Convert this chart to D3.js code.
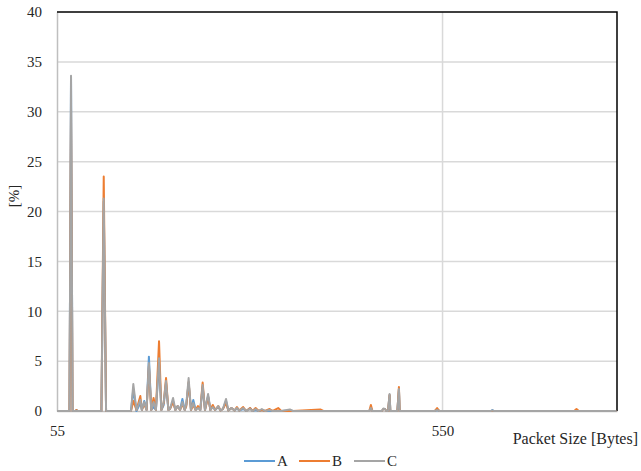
<!DOCTYPE html>
<html>
<head>
<meta charset="utf-8">
<script src="https://cdn.jsdelivr.net/npm/d3@7"></script>
<style>
  body { margin: 0; background: #fff; }
  svg { display: block; }
</style>
</head>
<body>
<svg id="chart" width="641" height="471"></svg>
<script>
// packet sizes (bytes) and share per size (%) for each trace
const sizes = [
  55, 71, 73, 75, 78, 80, 82, 112, 115, 118,
  150, 153, 157, 162, 164, 167, 170, 173, 176, 179,
  182, 186, 189, 192, 195, 198, 200, 204, 207, 210,
  213, 216, 219, 221, 224, 227, 230, 233, 236, 239,
  242, 245, 249, 252, 255, 258, 262, 265, 268, 272,
  275, 279, 283, 286, 289, 294, 298, 303, 306, 310,
  314, 318, 322, 328, 332, 339, 343, 354, 358, 393,
  397, 456, 458, 460, 472, 474, 476, 478, 480, 482,
  483, 492, 494, 495, 540, 543, 546, 612, 614, 616,
  719, 722, 725, 773
]
const seriesA = [
  0, 0, 33.5, 0, 0, 0.1, 0, 0, 21.0, 0,
  0, 2.2, 0, 0.8, 0.1, 1.0, 0.1, 5.45, 0.1, 0.4,
  0.1, 4.8, 0.1, 0.6, 2.8, 0.1, 0.2, 1.0, 0.1, 0.5,
  0.1, 1.2, 0.1, 0.6, 2.8, 0.1, 1.1, 0.1, 0.4, 0.1,
  2.4, 0.1, 1.5, 0.1, 0.5, 0.1, 0.4, 0.05, 0.2, 1.0,
  0.05, 0.3, 0.05, 0.3, 0.05, 0.2, 0, 0.3, 0, 0.1,
  0, 0.1, 0, 0, 0, 0, 0, 0.05, 0, 0,
  0, 0, 0.3, 0, 0, 0.2, 0.2, 0, 0, 1.6,
  0, 0, 2.2, 0, 0, 0.1, 0, 0, 0.1, 0,
  0, 0, 0, 0
]
const seriesB = [
  0, 0, 30.3, 0, 0, 0.1, 0, 0, 23.5, 0,
  0, 1.0, 0.1, 1.5, 0.1, 0.7, 0.1, 4.5, 0.1, 1.3,
  0.1, 7.0, 0.1, 0.8, 3.3, 0.1, 0.2, 0.9, 0.1, 0.5,
  0.1, 0.7, 0.1, 0.5, 2.9, 0.1, 0.6, 0.1, 0.5, 0.1,
  2.85, 0.1, 1.4, 0.1, 0.6, 0.1, 0.5, 0.05, 0.2, 0.8,
  0.05, 0.3, 0.05, 0.4, 0.05, 0.4, 0, 0.3, 0, 0.3,
  0, 0.1, 0, 0.2, 0, 0.3, 0, 0, 0, 0.15,
  0, 0, 0.6, 0, 0, 0.2, 0.2, 0, 0, 1.6,
  0, 0, 2.4, 0, 0, 0.3, 0, 0, 0, 0,
  0, 0.2, 0, 0
]
const seriesC = [
  0, 0, 33.6, 0, 0, 0, 0, 0, 21.3, 0,
  0, 2.7, 0.1, 1.1, 0.1, 0.9, 0.1, 4.8, 0.1, 0.9,
  0.1, 5.3, 0.1, 0.9, 3.0, 0.1, 0.2, 1.3, 0.1, 0.5,
  0.1, 0.9, 0.1, 0.7, 3.3, 0.1, 0.8, 0.1, 0.3, 0.1,
  2.6, 0.1, 1.7, 0.1, 0.4, 0.1, 0.5, 0.05, 0.2, 1.2,
  0.05, 0.3, 0.05, 0.3, 0.05, 0.3, 0, 0.2, 0, 0.2,
  0, 0.2, 0, 0.1, 0, 0, 0, 0.15, 0, 0,
  0, 0, 0.3, 0, 0, 0.25, 0.2, 0, 0, 1.7,
  0, 0, 2.2, 0, 0, 0.1, 0, 0, 0.05, 0,
  0, 0, 0, 0
]
const seriesNames = ['A', 'B', 'C']
const seriesColors = ['#5b9bd5', '#ed7d31', '#a5a5a5']
const xTicks = [55, 550]
const yTicks = [0, 5, 10, 15, 20, 25, 30, 35, 40]

const plot = { left: 57, right: 617, top: 12, bottom: 411 }
const fontFamily = 'Liberation Serif, DejaVu Serif, serif'

const svg = d3.select('#chart')

const x = d3.scaleLinear().domain([55, 774]).range([plot.left, plot.right])
const y = d3.scaleLinear().domain([0, 40]).range([plot.bottom, plot.top])

// horizontal gridlines
svg.append('g')
  .selectAll('line')
  .data(yTicks.filter((d) => d > 0 && d < 40))
  .enter()
  .append('line')
  .attr('x1', plot.left)
  .attr('x2', plot.right)
  .attr('y1', (d) => y(d))
  .attr('y2', (d) => y(d))
  .attr('stroke', '#d9d9d9')
  .attr('stroke-width', 1.5)

// vertical gridline at 550
svg.append('line')
  .attr('x1', x(550))
  .attr('x2', x(550))
  .attr('y1', plot.top)
  .attr('y2', plot.bottom)
  .attr('stroke', '#d9d9d9')
  .attr('stroke-width', 1.5)

const styleAxis = (g) => {
  g.attr('font-family', null).attr('font-size', null)
  g.select('.domain').attr('stroke', '#bfbfbf').attr('stroke-width', 1.5)
  g.selectAll('text')
    .attr('fill', '#262626')
    .style('font-family', fontFamily)
    .style('font-size', '15px')
}

// y axis
const yAxis = d3.axisLeft(y).tickValues(yTicks).tickSize(0).tickPadding(15)
svg.append('g')
  .attr('transform', `translate(${plot.left}, 0)`)
  .call(yAxis)
  .call(styleAxis)

// x axis
const xAxis = d3.axisBottom(x).tickValues(xTicks).tickSize(0).tickPadding(14)
  .tickFormat(d3.format('d'))
svg.append('g')
  .attr('transform', `translate(0, ${plot.bottom})`)
  .call(xAxis)
  .call(styleAxis)

// top and right border
svg.append('path')
  .attr('d', `M${plot.left},${plot.top}H${plot.right}V${plot.bottom}`)
  .attr('fill', 'none')
  .attr('stroke', '#000')
  .attr('stroke-width', 1.5)

// lines
const allSeries = [seriesA, seriesB, seriesC]
const line = d3.line()
  .x((d) => x(d[0]))
  .y((d) => y(d[1]))

allSeries.forEach((vals, i) => {
  svg.append('path')
    .datum(sizes.map((s, j) => [s, vals[j]]))
    .attr('fill', 'none')
    .attr('stroke', seriesColors[i])
    .attr('stroke-width', 2)
    .attr('stroke-linejoin', 'round')
    .attr('d', line)
})

// axis titles
svg.append('text')
  .attr('transform', 'rotate(-90)')
  .attr('x', -196)
  .attr('y', 19)
  .attr('text-anchor', 'middle')
  .style('font-family', fontFamily)
  .style('font-size', '15px')
  .attr('fill', '#262626')
  .text('[%]')

svg.append('text')
  .attr('x', 638)
  .attr('y', 444)
  .attr('text-anchor', 'end')
  .style('font-family', fontFamily)
  .style('font-size', '16px')
  .attr('fill', '#262626')
  .text('Packet Size [Bytes]')

// legend
const legend = svg.append('g')
seriesNames.forEach((name, i) => {
  const lx = 244 + i * 55
  legend.append('line')
    .attr('x1', lx)
    .attr('x2', lx + 31)
    .attr('y1', 461)
    .attr('y2', 461)
    .attr('stroke', seriesColors[i])
    .attr('stroke-width', 2)
  legend.append('text')
    .attr('x', lx + 33)
    .attr('y', 466)
    .style('font-family', fontFamily)
    .style('font-size', '15px')
    .attr('fill', '#262626')
    .text(name)
})
</script>
</body>
</html>
